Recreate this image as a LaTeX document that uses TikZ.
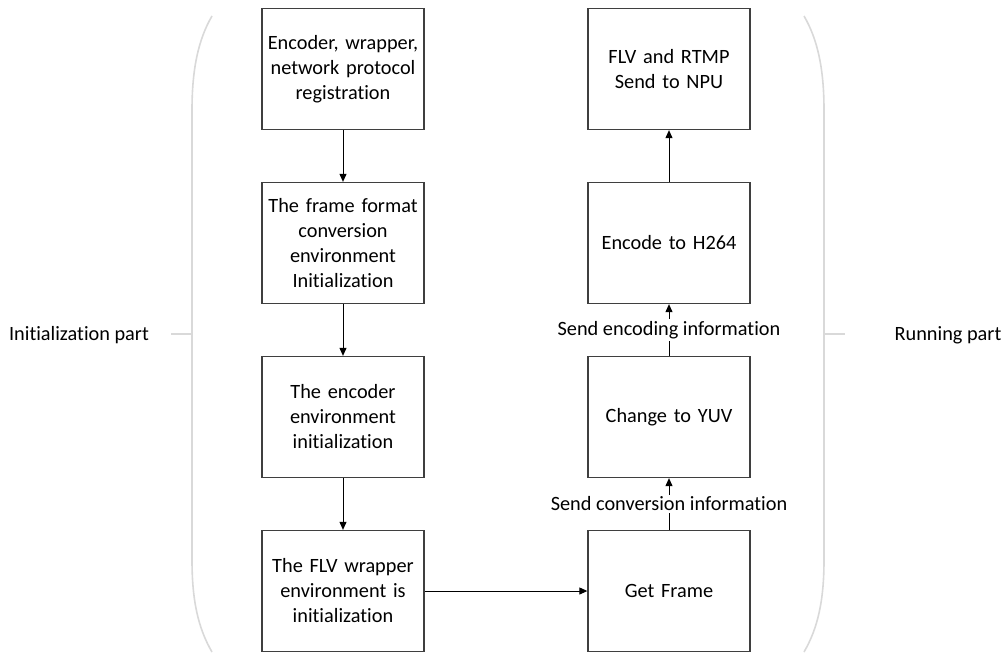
\documentclass[tikz,border=0pt]{standalone}
\usepackage{fontspec}
\setmainfont{Carlito}[RawFeature={-liga;-clig;-calt;-dlig}]
\usetikzlibrary{arrows.meta}
\definecolor{boxline}{HTML}{3F3F3F}
\definecolor{brace}{HTML}{D9D9D9}
\begin{document}
\begin{tikzpicture}[x=1pt,y=-1pt,
  every node/.style={font=\fontsize{20.3}{25}\selectfont, text=black},
  stepbox/.style={draw=boxline, line width=1.3pt, minimum width=162pt, minimum height=121pt,
                  align=center, text width=158pt, inner sep=0pt},
  flow/.style={line width=1pt, -{Triangle[length=8pt,width=7pt]}},
  bracket/.style={draw=brace, line width=1.6pt},
  lbl/.style={fill=white, inner sep=2pt}]
\useasboundingbox (0,0) rectangle (1004,653);

% initialization column
\node[stepbox] (a1) at (343,69)  {Encoder, wrapper,\\network protocol\\registration};
\node[stepbox] (a2) at (343,243) {The frame format\\conversion\\environment\\Initialization};
\node[stepbox] (a3) at (343,417) {The encoder\\environment\\initialization};
\node[stepbox] (a4) at (343,591) {The FLV wrapper\\environment is\\initialization};

% running column
\node[stepbox] (b1) at (669,69)  {FLV and RTMP\\Send to NPU};
\node[stepbox] (b2) at (669,243) {Encode to H264};
\node[stepbox] (b3) at (669,417) {Change to YUV};
\node[stepbox] (b4) at (669,591) {Get Frame};

\draw[flow] (a1) -- (a2);
\draw[flow] (a2) -- (a3);
\draw[flow] (a3) -- (a4);
\draw[flow] (a4) -- (b4);
\draw[flow] (b4) -- node[lbl] {Send conversion information} (b3);
\draw[flow] (b3) -- node[lbl] {Send encoding information} (b2);
\draw[flow] (b2) -- (b1);

% side brackets
\draw[bracket] (212,16) .. controls (198,40) and (192,70) .. (192,110) -- (192,560)
  .. controls (192,600) and (198,628) .. (212,652);
\draw[bracket] (171,334) -- (192,334);
\draw[bracket] (804,16) .. controls (818,40) and (824,70) .. (824,110) -- (824,560)
  .. controls (824,600) and (818,628) .. (804,652);
\draw[bracket] (824,334) -- (845,334);

\node (lp) at (79,335) {Initialization part};
\node (rp) at (948,335) {Running part};
\end{tikzpicture}
\end{document}
